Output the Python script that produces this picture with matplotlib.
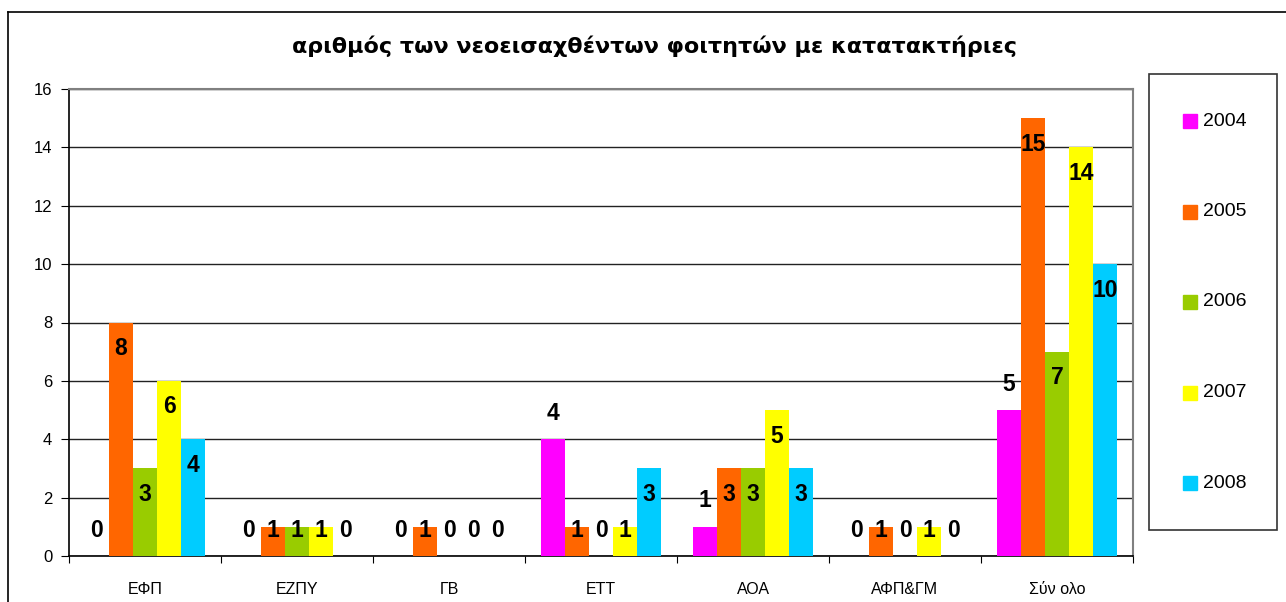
import matplotlib
matplotlib.use("Agg")
import matplotlib.pyplot as plt
import numpy as np
from matplotlib.patches import Rectangle
from matplotlib.lines import Line2D

# --- DATA ---
categories = ["ΕΦΠ", "ΕΖΠΥ", "ΓΒ", "ΕΤΤ", "ΑΟΑ", "ΑΦΠ&ΓΜ", "Σύν ολο"]
years = ["2004", "2005", "2006", "2007", "2008"]
v2004 = [0, 0, 0, 4, 1, 0, 5]
v2005 = [8, 1, 1, 1, 3, 1, 15]
v2006 = [3, 1, 0, 0, 3, 0, 7]
v2007 = [6, 1, 0, 1, 5, 1, 14]
v2008 = [4, 0, 0, 3, 3, 0, 10]
series = [v2004, v2005, v2006, v2007, v2008]
colors = ["#FF00FF", "#FF6600", "#99CC00", "#FFFF00", "#00CCFF"]

title = "αριθμός των νεοεισαχθέντων φοιτητών με κατατακτήριες"

# --- FIGURE ---
W, H = 1286, 602
fig = plt.figure(figsize=(W / 100, H / 100), dpi=100)
ax = fig.add_axes([69 / W, 1 - 556 / H, (1133 - 69) / W, (556 - 89) / H])

x = np.arange(len(categories))
bw = 0.158
lab_off = 0.89

for i, (vals, col) in enumerate(zip(series, colors)):
    xs = x + (i - 2) * bw
    ax.bar(xs, vals, width=bw, color=col, edgecolor="none", zorder=3)
    for xx, v in zip(xs, vals):
        if i == 0:
            yy = v + lab_off          # 2004: label outside the bar
        else:
            yy = max(v - lab_off, lab_off)
        ax.text(xx, yy, str(v), ha="center", va="center", fontsize=16.5,
                fontweight="bold", family="Liberation Sans", zorder=4)

ax.set_xlim(-0.5, len(categories) - 0.5)
ax.set_ylim(0, 16)
ax.set_yticks(np.arange(0, 17, 2))
ax.yaxis.grid(True, color="#222222", lw=1, zorder=0)
ax.set_axisbelow(True)

# category boundaries as ticks, names in between
ax.set_xticks(np.arange(-0.5, len(categories)), labels=[""] * (len(categories) + 1))
ax.set_xticks(x, labels=categories, minor=True)
ax.tick_params(axis="x", which="major", direction="out", length=5, color="black")
ax.tick_params(axis="x", which="minor", length=0, pad=19, labelsize=11.5)
ax.tick_params(axis="y", direction="out", length=6, pad=6, labelsize=12)
for lab in ax.get_xticklabels(minor=True) + ax.get_yticklabels():
    lab.set_family("Liberation Sans")

for s in ["top", "right"]:
    ax.spines[s].set_color("#808080")
    ax.spines[s].set_linewidth(1.5)
for s in ["left", "bottom"]:
    ax.spines[s].set_color("black")
    ax.spines[s].set_linewidth(1.2)

# title
fig.text(655 / W, 1 - 46 / H, title, ha="center", va="center",
         fontsize=16, fontweight="bold", family="DejaVu Sans")

# outer chart border (left and top)
fig.add_artist(Line2D([8 / W, 8 / W], [0, 1 - 12 / H], color="black", lw=1.2))
fig.add_artist(Line2D([8 / W, 1], [1 - 12 / H, 1 - 12 / H], color="black", lw=1.2))

# legend box
fig.add_artist(Rectangle((1149 / W, 1 - 530 / H), (1277 - 1149) / W, (530 - 74) / H,
                         transform=fig.transFigure, fill=False, edgecolor="#333333", lw=1.2))
for k, (yr, col) in enumerate(zip(years, colors)):
    yc = 121 + k * 90.5
    fig.add_artist(Rectangle((1183 / W, 1 - (yc + 7) / H), 14 / W, 14 / H,
                             transform=fig.transFigure, color=col))
    fig.text(1203 / W, 1 - yc / H, yr, ha="left", va="center", fontsize=14,
             family="Liberation Sans")

fig.savefig("out.png", dpi=100)
